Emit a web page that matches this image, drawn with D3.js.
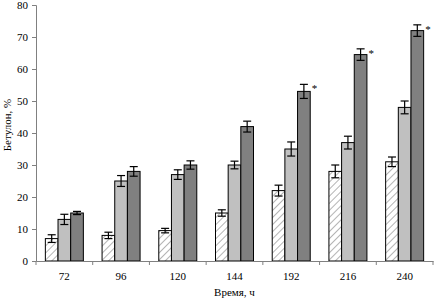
<!DOCTYPE html>
<html>
<head>
<meta charset="utf-8">
<script src="https://cdn.jsdelivr.net/npm/d3@7"></script>
<style>
  html, body { margin: 0; padding: 0; background: #fff; }
  svg text { font-family: "Liberation Serif", "Times New Roman", serif; }
</style>
</head>
<body>
<div id="chart"></div>
<script>
// --- dati ---
const hours   = ["72", "96", "120", "144", "192", "216", "240"];
const series  = ["s1", "s2", "s3"];
const valS1   = [7, 8, 9.5, 15, 22, 28, 31];
const errS1   = [1.2, 1, 0.7, 1, 1.7, 2, 1.5];
const valS2   = [13, 25, 27, 30, 35, 37, 48];
const errS2   = [1.6, 1.7, 1.5, 1.2, 2.2, 2, 2];
const valS3   = [15, 28, 30, 42, 53, 64.5, 72];
const errS3   = [0.5, 1.5, 1.3, 1.7, 2.2, 1.8, 1.8];
const starred = ["192", "216", "240"];   // asterisco sulla serie scura
const yTicks  = [0, 10, 20, 30, 40, 50, 60, 70, 80];

const W = 434, H = 302;
const margin = { top: 5, right: 1, bottom: 41, left: 36 };
const innerW = W - margin.left - margin.right;
const innerH = H - margin.top - margin.bottom;

const svg = d3.select("#chart").append("svg")
  .attr("width", W).attr("height", H);

// pattern tratteggiato per la prima serie
const defs = svg.append("defs");
defs.append("pattern")
  .attr("id", "hatch")
  .attr("patternUnits", "userSpaceOnUse")
  .attr("width", 5).attr("height", 5)
  .attr("patternTransform", "rotate(45)")
  .call(p => {
    p.append("rect").attr("width", 5).attr("height", 5).attr("fill", "#fff");
    p.append("line").attr("x1", 0).attr("y1", 0).attr("x2", 0).attr("y2", 5)
      .attr("stroke", "#b4b4b4").attr("stroke-width", 2);
  });

const fills = { s1: "url(#hatch)", s2: "#c0c0c0", s3: "#808080" };

const g = svg.append("g").attr("transform", `translate(${margin.left},${margin.top})`);

const x = d3.scaleBand().domain(hours).range([0, innerW]).paddingInner(0.33).paddingOuter(0.165);
const xs = d3.scaleBand().domain(series).range([0, x.bandwidth()]);
const y = d3.scaleLinear().domain([0, 80]).range([innerH, 0]);

const rows = hours.map((h, i) => ({
  h,
  items: [
    { k: "s1", v: valS1[i], e: errS1[i] },
    { k: "s2", v: valS2[i], e: errS2[i] },
    { k: "s3", v: valS3[i], e: errS3[i] }
  ]
}));

// barre
const grp = g.selectAll("g.grp").data(rows).enter().append("g")
  .attr("class", "grp")
  .attr("transform", d => `translate(${x(d.h)},0)`);

grp.selectAll("rect").data(d => d.items).enter().append("rect")
  .attr("x", d => xs(d.k))
  .attr("y", d => y(d.v))
  .attr("width", xs.bandwidth())
  .attr("height", d => innerH - y(d.v))
  .attr("fill", d => fills[d.k])
  .attr("stroke", "#000")
  .attr("stroke-width", 1);

// barre d'errore
const eb = grp.selectAll("g.err").data(d => d.items).enter().append("g")
  .attr("class", "err")
  .attr("stroke", "#000").attr("stroke-width", 1.2);
const cx = d => xs(d.k) + xs.bandwidth() / 2;
eb.append("line").attr("x1", cx).attr("x2", cx)
  .attr("y1", d => y(d.v - d.e)).attr("y2", d => y(d.v + d.e));
eb.append("line").attr("x1", d => cx(d) - 4).attr("x2", d => cx(d) + 4)
  .attr("y1", d => y(d.v + d.e)).attr("y2", d => y(d.v + d.e));
eb.append("line").attr("x1", d => cx(d) - 4).attr("x2", d => cx(d) + 4)
  .attr("y1", d => y(d.v - d.e)).attr("y2", d => y(d.v - d.e));

// asterischi
grp.filter(d => starred.includes(d.h)).append("text")
  .attr("x", xs("s3") + xs.bandwidth() + 1.5)
  .attr("y", d => y(d.items[2].v + d.items[2].e) + 8)
  .attr("font-size", 11)
  .attr("font-family", "'Liberation Serif', serif")
  .attr("fill", "#000")
  .text("*");

// assi
const yAxis = g.append("g")
  .call(d3.axisLeft(y).tickValues(yTicks).tickSize(4).tickPadding(4));
const xAxis = g.append("g")
  .attr("transform", `translate(0,${innerH})`)
  .call(d3.axisBottom(x).tickSize(0).tickPadding(11));

// tacche tra le categorie
g.append("g").selectAll("line").data(d3.range(hours.length + 1)).enter().append("line")
  .attr("x1", i => i * innerW / hours.length).attr("x2", i => i * innerW / hours.length)
  .attr("y1", innerH).attr("y2", innerH + 4)
  .attr("stroke", "#808080");

[yAxis, xAxis].forEach(a => {
  a.attr("font-family", "'Liberation Serif', serif");
  a.select(".domain").attr("stroke", "#808080");
  a.selectAll(".tick line").attr("stroke", "#808080");
  a.selectAll("text").attr("font-size", 11).attr("fill", "#000");
});

// titoli assi
svg.append("text")
  .attr("x", margin.left + innerW / 2).attr("y", 296)
  .attr("text-anchor", "middle").attr("font-size", 11)
  .text("Время, ч");
svg.append("text")
  .attr("transform", "translate(11,125) rotate(-90)")
  .attr("text-anchor", "middle").attr("font-size", 11)
  .text("Бетулон, %");
</script>
</body>
</html>
